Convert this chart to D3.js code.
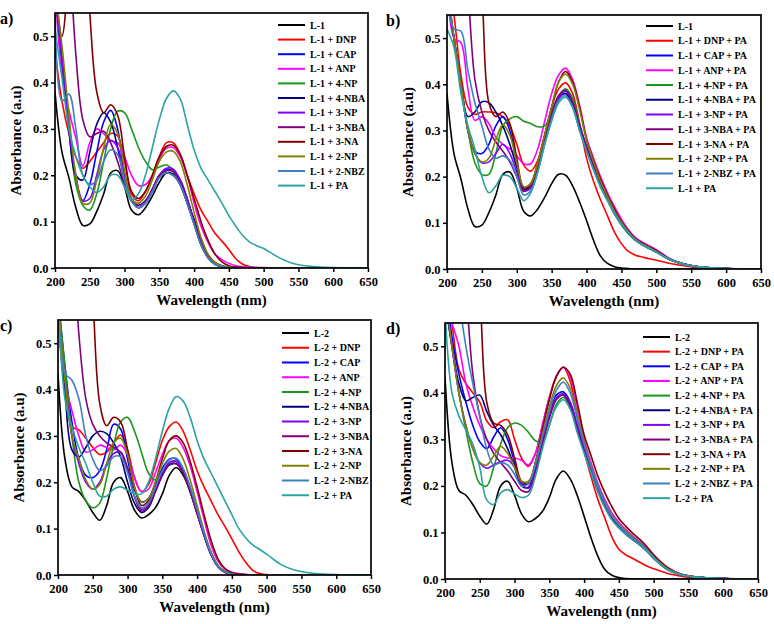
<!DOCTYPE html>
<html>
<head>
<meta charset="utf-8">
<script src="https://cdn.jsdelivr.net/npm/d3@7"></script>
<style>
  html, body { margin: 0; padding: 0; background: #fff; }
  svg { display: block; }
  svg text { font-family: "Liberation Serif", "DejaVu Serif", serif; font-weight: bold; fill: #000; }
</style>
</head>
<body>
<svg id="chart" width="774" height="624"></svg>
<script>
// wavelength grid (nm) the absorbances were read at
const wavelengths = [200,210,220,230,240,250,260,270,280,290,300,310,320,330,340,350,360,370,380,390,400,410,420,430,440,450,460,470,480,490,500,520,540,560,600,650];
const ticksX = [200,250,300,350,400,450,500,550,600,650];
const ticksY = [0,0.1,0.2,0.3,0.4,0.5];

const colors = ["#000000","#ff0000","#0000ff","#ff00ff","#1a961a","#000080","#8000ff","#800080","#800000","#808000","#3f7fc4","#2aa3a3"];

const labelsA = ["L-1","L-1 + DNP","L-1 + CAP","L-1 + ANP","L-1 + 4-NP","L-1 + 4-NBA","L-1 + 3-NP","L-1 + 3-NBA","L-1 + 3-NA","L-1 + 2-NP","L-1 + 2-NBZ","L-1 + PA"];
const labelsB = ["L-1","L-1 + DNP + PA","L-1 + CAP + PA","L-1 + ANP + PA","L-1 + 4-NP + PA","L-1 + 4-NBA + PA","L-1 + 3-NP + PA","L-1 + 3-NBA + PA","L-1 + 3-NA + PA","L-1 + 2-NP + PA","L-1 + 2-NBZ + PA","L-1 + PA"];
const labelsC = ["L-2","L-2 + DNP","L-2 + CAP","L-2 + ANP","L-2 + 4-NP","L-2 + 4-NBA","L-2 + 3-NP","L-2 + 3-NBA","L-2 + 3-NA","L-2 + 2-NP","L-2 + 2-NBZ","L-2 + PA"];
const labelsD = ["L-2","L-2 + DNP + PA","L-2 + CAP + PA","L-2 + ANP + PA","L-2 + 4-NP + PA","L-2 + 4-NBA + PA","L-2 + 3-NP + PA","L-2 + 3-NBA + PA","L-2 + 3-NA + PA","L-2 + 2-NP + PA","L-2 + 2-NBZ + PA","L-2 + PA"];

// ---- panel a) L-1 with analytes
const L1      = [0.38,0.25,0.195,0.13,0.092,0.095,0.122,0.16,0.205,0.21,0.175,0.125,0.115,0.13,0.155,0.185,0.205,0.203,0.18,0.145,0.105,0.062,0.028,0.012,0.005,0.002,0.001,0,0,0,0,0,0,0,0,0];
const L1_DNP  = [0.47,0.36,0.29,0.24,0.215,0.23,0.25,0.27,0.29,0.285,0.23,0.16,0.145,0.165,0.2,0.24,0.27,0.27,0.245,0.2,0.16,0.125,0.1,0.075,0.058,0.04,0.02,0.008,0.003,0.001,0,0,0,0,0,0];
const L1_CAP  = [0.6,0.45,0.3,0.19,0.145,0.18,0.25,0.315,0.34,0.3,0.2,0.145,0.135,0.145,0.17,0.2,0.212,0.21,0.19,0.15,0.1,0.055,0.025,0.01,0.004,0.001,0,0,0,0,0,0,0,0,0,0];
const L1_ANP  = [0.6,0.42,0.34,0.28,0.22,0.27,0.3,0.29,0.275,0.27,0.24,0.2,0.178,0.18,0.2,0.235,0.258,0.26,0.24,0.2,0.14,0.09,0.055,0.03,0.018,0.01,0.005,0.003,0.002,0.001,0.001,0,0,0,0,0];
const L1_4NP  = [0.6,0.45,0.3,0.18,0.135,0.125,0.16,0.23,0.3,0.338,0.335,0.3,0.26,0.23,0.212,0.218,0.222,0.21,0.18,0.14,0.095,0.05,0.022,0.008,0.003,0.001,0,0,0,0,0,0,0,0,0,0];
const L1_4NBA = [0.6,0.45,0.3,0.2,0.19,0.25,0.31,0.335,0.315,0.26,0.19,0.145,0.13,0.14,0.165,0.195,0.205,0.2,0.18,0.14,0.095,0.05,0.022,0.008,0.003,0.001,0,0,0,0,0,0,0,0,0,0];
const L1_3NP  = [0.6,0.45,0.3,0.2,0.145,0.15,0.2,0.255,0.275,0.26,0.2,0.15,0.13,0.14,0.17,0.2,0.215,0.213,0.19,0.15,0.1,0.055,0.025,0.01,0.004,0.001,0,0,0,0,0,0,0,0,0,0];
const L1_3NBA = [1.0,0.9,0.7,0.46,0.32,0.283,0.29,0.295,0.27,0.23,0.18,0.145,0.135,0.145,0.17,0.2,0.21,0.208,0.185,0.145,0.1,0.055,0.025,0.01,0.004,0.001,0,0,0,0,0,0,0,0,0,0];
const L1_3NA  = [0.62,0.5,0.65,0.9,0.8,0.55,0.38,0.335,0.352,0.33,0.24,0.165,0.15,0.165,0.2,0.24,0.262,0.265,0.245,0.2,0.15,0.1,0.06,0.03,0.013,0.005,0.002,0.001,0,0,0,0,0,0,0,0];
const L1_2NP  = [0.6,0.48,0.33,0.2,0.14,0.14,0.19,0.26,0.31,0.29,0.21,0.15,0.14,0.155,0.19,0.23,0.25,0.252,0.23,0.18,0.12,0.065,0.03,0.012,0.005,0.002,0,0,0,0,0,0,0,0,0,0];
const L1_2NBZ = [0.58,0.36,0.375,0.3,0.2,0.18,0.19,0.23,0.255,0.245,0.19,0.145,0.13,0.14,0.165,0.195,0.205,0.2,0.18,0.14,0.095,0.05,0.022,0.008,0.003,0.001,0,0,0,0,0,0,0,0,0,0];
const L1_PA   = [0.515,0.41,0.3,0.24,0.2,0.175,0.163,0.175,0.2,0.2,0.175,0.147,0.16,0.2,0.26,0.32,0.365,0.382,0.365,0.31,0.255,0.215,0.19,0.165,0.14,0.113,0.09,0.07,0.056,0.048,0.042,0.024,0.011,0.005,0.001,0];

// ---- panel b) L-1 with analytes + PA
const L1_DNP_PA  = [0.65,0.55,0.42,0.35,0.335,0.34,0.34,0.338,0.33,0.31,0.27,0.225,0.212,0.235,0.29,0.35,0.39,0.403,0.38,0.315,0.24,0.19,0.15,0.115,0.08,0.055,0.038,0.03,0.026,0.022,0.019,0.012,0.007,0.003,0.001,0];
const L1_CAP_PA  = [0.6,0.5,0.4,0.3,0.255,0.25,0.27,0.31,0.33,0.3,0.23,0.175,0.18,0.22,0.28,0.33,0.37,0.38,0.355,0.305,0.26,0.22,0.18,0.15,0.12,0.097,0.078,0.063,0.053,0.045,0.037,0.02,0.01,0.005,0.001,0];
const L1_ANP_PA  = [0.65,0.5,0.49,0.39,0.322,0.33,0.315,0.285,0.27,0.26,0.245,0.228,0.228,0.26,0.32,0.38,0.42,0.435,0.41,0.355,0.285,0.24,0.2,0.165,0.135,0.108,0.085,0.068,0.058,0.05,0.042,0.022,0.011,0.005,0.001,0];
const L1_4NP_PA  = [0.6,0.5,0.4,0.3,0.23,0.205,0.205,0.25,0.31,0.325,0.33,0.32,0.315,0.308,0.31,0.34,0.375,0.39,0.37,0.315,0.262,0.22,0.18,0.15,0.12,0.095,0.076,0.062,0.052,0.044,0.036,0.02,0.01,0.005,0.001,0];
const L1_4NBA_PA = [0.6,0.5,0.4,0.33,0.34,0.362,0.36,0.34,0.31,0.27,0.22,0.172,0.18,0.22,0.28,0.33,0.37,0.38,0.355,0.305,0.26,0.22,0.18,0.15,0.12,0.097,0.078,0.063,0.053,0.045,0.037,0.02,0.01,0.005,0.001,0];
const L1_3NP_PA  = [0.62,0.5,0.4,0.3,0.25,0.23,0.232,0.25,0.27,0.25,0.21,0.17,0.175,0.215,0.275,0.33,0.37,0.385,0.36,0.31,0.265,0.225,0.185,0.155,0.125,0.1,0.08,0.065,0.055,0.047,0.039,0.021,0.011,0.005,0.001,0];
const L1_3NBA_PA = [1.0,0.9,0.75,0.6,0.41,0.34,0.3,0.275,0.255,0.232,0.2,0.168,0.18,0.22,0.28,0.335,0.375,0.387,0.362,0.31,0.265,0.225,0.185,0.152,0.122,0.098,0.078,0.063,0.053,0.045,0.037,0.02,0.01,0.005,0.001,0];
const L1_3NA_PA  = [1.0,1.0,1.0,0.9,0.75,0.6,0.36,0.33,0.34,0.315,0.24,0.175,0.185,0.23,0.29,0.35,0.405,0.428,0.405,0.35,0.28,0.235,0.195,0.16,0.13,0.103,0.082,0.066,0.056,0.048,0.04,0.021,0.011,0.005,0.001,0];
const L1_2NP_PA  = [0.62,0.5,0.4,0.3,0.25,0.232,0.24,0.28,0.312,0.29,0.23,0.178,0.185,0.23,0.29,0.35,0.405,0.422,0.4,0.345,0.28,0.232,0.19,0.157,0.125,0.1,0.08,0.064,0.054,0.046,0.038,0.02,0.01,0.005,0.001,0];
const L1_2NBZ_PA = [0.58,0.52,0.515,0.43,0.36,0.31,0.26,0.24,0.245,0.235,0.2,0.16,0.17,0.21,0.27,0.325,0.365,0.375,0.35,0.3,0.255,0.215,0.178,0.148,0.12,0.097,0.078,0.063,0.053,0.045,0.037,0.02,0.01,0.005,0.001,0];
const L1_PA_b    = [0.52,0.48,0.38,0.31,0.26,0.2,0.165,0.18,0.203,0.2,0.175,0.148,0.165,0.21,0.27,0.32,0.36,0.372,0.35,0.3,0.255,0.215,0.178,0.148,0.12,0.097,0.078,0.063,0.053,0.045,0.037,0.02,0.01,0.005,0.001,0];

// ---- panel c) L-2 with analytes
const L2      = [0.435,0.25,0.19,0.18,0.16,0.135,0.118,0.15,0.2,0.21,0.18,0.14,0.123,0.13,0.145,0.175,0.215,0.232,0.215,0.18,0.135,0.088,0.048,0.02,0.008,0.003,0.001,0,0,0,0,0,0,0,0,0];
const L2_DNP  = [0.55,0.4,0.32,0.313,0.295,0.275,0.26,0.265,0.285,0.302,0.27,0.21,0.18,0.195,0.24,0.29,0.32,0.33,0.31,0.27,0.225,0.19,0.16,0.13,0.105,0.078,0.05,0.027,0.01,0.003,0.001,0,0,0,0,0];
const L2_CAP  = [0.6,0.45,0.33,0.25,0.215,0.21,0.225,0.27,0.325,0.315,0.25,0.185,0.158,0.165,0.195,0.23,0.25,0.25,0.228,0.188,0.138,0.09,0.047,0.02,0.007,0.002,0,0,0,0,0,0,0,0,0,0];
const L2_ANP  = [0.6,0.42,0.355,0.3,0.265,0.27,0.28,0.275,0.27,0.28,0.26,0.21,0.18,0.185,0.22,0.26,0.29,0.295,0.275,0.235,0.18,0.12,0.065,0.03,0.013,0.006,0.003,0.001,0,0,0,0,0,0,0,0];
const L2_4NP  = [0.6,0.45,0.3,0.2,0.16,0.145,0.155,0.21,0.28,0.33,0.34,0.31,0.265,0.22,0.205,0.22,0.24,0.245,0.225,0.185,0.135,0.088,0.045,0.019,0.007,0.002,0,0,0,0,0,0,0,0,0,0];
const L2_4NBA = [0.6,0.4,0.27,0.255,0.275,0.3,0.31,0.305,0.285,0.255,0.2,0.155,0.135,0.145,0.18,0.215,0.237,0.24,0.22,0.18,0.132,0.085,0.044,0.018,0.006,0.002,0,0,0,0,0,0,0,0,0,0];
const L2_3NP  = [0.6,0.42,0.3,0.24,0.2,0.185,0.2,0.24,0.262,0.265,0.23,0.17,0.142,0.15,0.185,0.22,0.243,0.245,0.225,0.185,0.135,0.088,0.045,0.019,0.007,0.002,0,0,0,0,0,0,0,0,0,0];
const L2_3NBA = [1.0,0.9,0.75,0.52,0.38,0.325,0.3,0.285,0.275,0.265,0.23,0.17,0.138,0.148,0.18,0.215,0.238,0.24,0.22,0.18,0.132,0.085,0.044,0.018,0.006,0.002,0,0,0,0,0,0,0,0,0,0];
const L2_3NA  = [1.0,1.0,1.0,0.95,0.8,0.6,0.37,0.322,0.34,0.33,0.27,0.19,0.15,0.16,0.2,0.25,0.29,0.3,0.285,0.245,0.19,0.13,0.075,0.035,0.014,0.005,0.002,0.001,0,0,0,0,0,0,0,0];
const L2_2NP  = [0.6,0.42,0.3,0.25,0.205,0.185,0.195,0.24,0.285,0.295,0.26,0.19,0.157,0.165,0.2,0.24,0.267,0.273,0.25,0.205,0.15,0.095,0.05,0.021,0.008,0.002,0,0,0,0,0,0,0,0,0,0];
const L2_2NBZ = [0.6,0.435,0.42,0.38,0.3,0.25,0.225,0.235,0.255,0.255,0.22,0.17,0.145,0.155,0.19,0.225,0.248,0.252,0.23,0.19,0.14,0.09,0.046,0.019,0.007,0.002,0,0,0,0,0,0,0,0,0,0];
const L2_PA   = [0.6,0.38,0.32,0.275,0.24,0.2,0.17,0.17,0.185,0.19,0.183,0.175,0.175,0.2,0.25,0.31,0.36,0.385,0.375,0.34,0.29,0.25,0.22,0.19,0.16,0.13,0.1,0.08,0.065,0.055,0.045,0.023,0.011,0.005,0.001,0];

// ---- panel d) L-2 with analytes + PA
const L2_DNP_PA  = [0.65,0.55,0.45,0.42,0.4,0.38,0.34,0.325,0.338,0.342,0.3,0.26,0.242,0.27,0.33,0.39,0.435,0.455,0.425,0.35,0.275,0.22,0.17,0.13,0.09,0.064,0.052,0.044,0.036,0.028,0.022,0.012,0.006,0.002,0.001,0];
const L2_CAP_PA  = [0.65,0.52,0.44,0.38,0.33,0.295,0.28,0.305,0.325,0.3,0.25,0.205,0.205,0.25,0.31,0.36,0.395,0.402,0.38,0.33,0.28,0.235,0.192,0.158,0.132,0.115,0.1,0.088,0.076,0.062,0.046,0.021,0.009,0.004,0.001,0];
const L2_ANP_PA  = [0.6,0.55,0.5,0.42,0.37,0.33,0.3,0.28,0.265,0.26,0.26,0.255,0.245,0.27,0.33,0.39,0.435,0.455,0.435,0.37,0.3,0.25,0.205,0.17,0.142,0.122,0.106,0.092,0.08,0.066,0.049,0.023,0.01,0.004,0.001,0];
const L2_4NP_PA  = [0.6,0.5,0.4,0.32,0.25,0.205,0.2,0.24,0.29,0.325,0.335,0.33,0.315,0.297,0.295,0.33,0.375,0.39,0.37,0.32,0.275,0.232,0.19,0.157,0.13,0.113,0.098,0.086,0.075,0.062,0.046,0.021,0.009,0.004,0.001,0];
const L2_4NBA_PA = [0.6,0.5,0.42,0.383,0.39,0.395,0.36,0.33,0.31,0.28,0.24,0.2,0.197,0.24,0.3,0.35,0.388,0.397,0.375,0.325,0.277,0.232,0.19,0.156,0.13,0.112,0.097,0.085,0.074,0.061,0.045,0.021,0.009,0.004,0.001,0];
const L2_3NP_PA  = [0.62,0.5,0.4,0.33,0.28,0.25,0.238,0.245,0.252,0.255,0.24,0.205,0.195,0.235,0.295,0.35,0.388,0.397,0.378,0.33,0.282,0.238,0.196,0.162,0.135,0.117,0.102,0.09,0.078,0.064,0.047,0.022,0.009,0.004,0.001,0];
const L2_3NBA_PA = [1.0,0.9,0.75,0.62,0.44,0.35,0.3,0.27,0.25,0.232,0.21,0.19,0.188,0.23,0.29,0.345,0.385,0.395,0.372,0.322,0.275,0.23,0.188,0.155,0.128,0.11,0.096,0.084,0.073,0.06,0.044,0.02,0.009,0.004,0.001,0];
const L2_3NA_PA  = [1.0,1.0,1.0,0.95,0.8,0.62,0.38,0.335,0.33,0.31,0.26,0.21,0.205,0.25,0.32,0.385,0.435,0.455,0.44,0.38,0.31,0.265,0.22,0.185,0.155,0.13,0.113,0.098,0.085,0.07,0.052,0.025,0.01,0.005,0.001,0];
const L2_2NP_PA  = [0.62,0.5,0.4,0.33,0.28,0.25,0.245,0.265,0.285,0.27,0.24,0.21,0.21,0.25,0.31,0.37,0.415,0.432,0.41,0.355,0.295,0.245,0.2,0.165,0.137,0.118,0.103,0.09,0.078,0.064,0.047,0.022,0.009,0.004,0.001,0];
const L2_2NBZ_PA = [0.8,0.7,0.6,0.5,0.42,0.35,0.28,0.245,0.25,0.245,0.225,0.2,0.205,0.245,0.305,0.36,0.405,0.423,0.4,0.345,0.29,0.242,0.198,0.163,0.135,0.116,0.101,0.088,0.077,0.063,0.046,0.021,0.009,0.004,0.001,0];
const L2_PA_d    = [0.58,0.4,0.35,0.32,0.29,0.24,0.17,0.16,0.185,0.192,0.183,0.175,0.18,0.22,0.28,0.33,0.37,0.385,0.365,0.315,0.27,0.228,0.186,0.153,0.127,0.11,0.096,0.084,0.073,0.06,0.044,0.02,0.009,0.004,0.001,0];

// panel frames (pixels) and legend placement
const panels = [
  { tag: "a)", left: 55,  right: 368, top: 13,  bottom: 268, legX: 278, legY: 25,  legDy: 14.6,
    labels: labelsA, series: [L1, L1_DNP, L1_CAP, L1_ANP, L1_4NP, L1_4NBA, L1_3NP, L1_3NBA, L1_3NA, L1_2NP, L1_2NBZ, L1_PA] },
  { tag: "b)", left: 447, right: 761, top: 15,  bottom: 269, legX: 646, legY: 26,  legDy: 14.75,
    labels: labelsB, series: [L1, L1_DNP_PA, L1_CAP_PA, L1_ANP_PA, L1_4NP_PA, L1_4NBA_PA, L1_3NP_PA, L1_3NBA_PA, L1_3NA_PA, L1_2NP_PA, L1_2NBZ_PA, L1_PA_b] },
  { tag: "c)", left: 58,  right: 371, top: 320, bottom: 575, legX: 282, legY: 333, legDy: 14.75,
    labels: labelsC, series: [L2, L2_DNP, L2_CAP, L2_ANP, L2_4NP, L2_4NBA, L2_3NP, L2_3NBA, L2_3NA, L2_2NP, L2_2NBZ, L2_PA] },
  { tag: "d)", left: 445, right: 758, top: 323, bottom: 579, legX: 643, legY: 337, legDy: 14.65,
    labels: labelsD, series: [L2, L2_DNP_PA, L2_CAP_PA, L2_ANP_PA, L2_4NP_PA, L2_4NBA_PA, L2_3NP_PA, L2_3NBA_PA, L2_3NA_PA, L2_2NP_PA, L2_2NBZ_PA, L2_PA_d] }
];

const serif = "'Liberation Serif', 'DejaVu Serif', serif";
const svg = d3.select("#chart");

panels.forEach((p, pi) => {
  const x = d3.scaleLinear().domain([200, 650]).range([p.left, p.right]);
  const y = d3.scaleLinear().domain([0, 0.55]).range([p.bottom, p.top]);
  const g = svg.append("g");

  g.append("clipPath").attr("id", `clip${pi}`)
    .append("rect")
    .attr("x", p.left).attr("y", p.top)
    .attr("width", p.right - p.left).attr("height", p.bottom - p.top);

  const line = d3.line()
    .x((d, i) => x(wavelengths[i]))
    .y(d => y(d))
    .curve(d3.curveCatmullRom.alpha(0.5));

  // spectra
  g.append("g").attr("clip-path", `url(#clip${pi})`)
    .selectAll("path")
    .data(p.series)
    .join("path")
    .attr("fill", "none")
    .attr("stroke", (_, i) => colors[i])
    .attr("stroke-width", 1.6)
    .attr("stroke-linejoin", "round")
    .attr("d", line);

  // axes
  const ax = g.append("g").attr("transform", `translate(0,${p.bottom})`)
    .call(d3.axisBottom(x).tickValues(ticksX).tickSize(4).tickPadding(5).tickFormat(d3.format("d")));
  const ay = g.append("g").attr("transform", `translate(${p.left},0)`)
    .call(d3.axisLeft(y).tickValues(ticksY).tickSize(4).tickPadding(2.5).tickFormat(d3.format(".1f")));
  [ax, ay].forEach(a => {
    a.attr("font-family", serif);
    a.select(".domain").remove();
    a.selectAll(".tick line").attr("stroke", "#000").attr("stroke-width", 1.5);
    a.selectAll(".tick text").style("font-size", "12.5px").style("font-family", serif);
  });

  // frame
  g.append("rect")
    .attr("x", p.left).attr("y", p.top)
    .attr("width", p.right - p.left).attr("height", p.bottom - p.top)
    .attr("fill", "none").attr("stroke", "#000").attr("stroke-width", 1.7);

  // axis titles
  g.append("text")
    .attr("x", (p.left + p.right) / 2).attr("y", p.bottom + 37)
    .attr("text-anchor", "middle").style("font-size", "15px")
    .text("Wavelength (nm)");
  g.append("text")
    .attr("transform", `translate(${p.left - 39},${(p.top + p.bottom) / 2}) rotate(-90)`)
    .attr("text-anchor", "middle").attr("dy", "0.35em").style("font-size", "15px")
    .text("Absorbance (a.u)");

  // panel tag
  g.append("text")
    .attr("x", pi % 2 === 0 ? 0 : 386).attr("y", p.top + 11)
    .style("font-size", "16px")
    .text(p.tag);

  // legend
  const leg = g.append("g").selectAll("g")
    .data(p.labels)
    .join("g")
    .attr("transform", (_, i) => `translate(${p.legX},${p.legY + i * p.legDy})`);
  leg.append("line")
    .attr("x1", 0).attr("x2", 27)
    .attr("stroke", (_, i) => colors[i]).attr("stroke-width", 2);
  leg.append("text")
    .attr("x", 32).attr("dy", "0.35em")
    .style("font-size", "10px")
    .text(d => d);
});
</script>
</body>
</html>
